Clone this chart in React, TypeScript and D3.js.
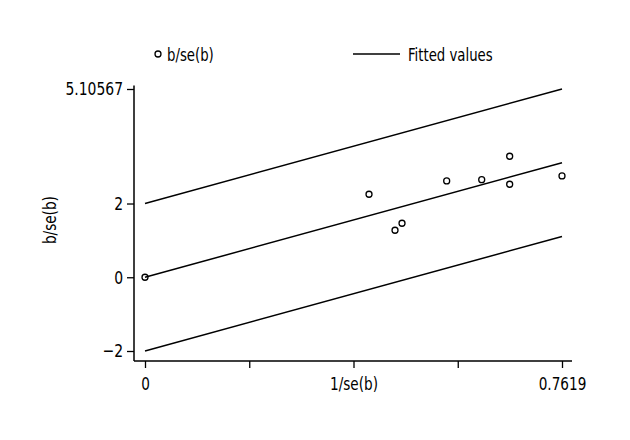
import React, { useRef, useEffect } from "react";
import * as d3 from "d3";

/* Galbraith plot: precision vs standardized effect */
const precision = [0, 0.4093, 0.4568, 0.4696, 0.5512, 0.6152, 0.6663, 0.6663, 0.7619];
const zScores = [0, 2.251, 1.275, 1.465, 2.612, 2.647, 3.282, 2.522, 2.747];
const xTickValues = [0, 0.190475, 0.38095, 0.571425, 0.7619];
const xTickLabels = ["0", "", "1/se(b)", "", "0.7619"];
const yTickValues = [-2, 0, 2, 5.10567];
const yTickLabels = ["\u22122", "0", "2", "5.10567"];
const bandOffsets = [-2, 0, 2];
const FONT = "'DejaVu Sans Condensed', 'DejaVu Sans', sans-serif";
const FS = "18px";

/* squeeze text horizontally to mimic a condensed face */
function condense(sel: d3.Selection<any, any, any, any>, k: number) {
  sel.each(function (this: SVGTextElement) {
    const w = this.getComputedTextLength();
    if (w > 0) {
      d3.select(this).attr("textLength", w * k).attr("lengthAdjust", "spacingAndGlyphs");
    }
  });
}

export default function App() {
  const svgRef = useRef<SVGSVGElement | null>(null);

  useEffect(() => {
    const W = 630;
    const H = 440;
    const svg = d3.select(svgRef.current);
    svg.selectAll("*").remove();
    svg.attr("viewBox", `0 0 ${W} ${H}`).style("background", "#fff").style("font-family", FONT);

    const xMax = 0.7619;
    const x = d3.scaleLinear().domain([0, xMax]).range([145, 562]);
    const y = d3.scaleLinear().domain([-2, 5.10567]).range([351, 89]);
    const slope = 3.10567 / xMax;

    /* ---- fitted lines ---- */
    bandOffsets.forEach((c) => {
      const pts: [number, number][] = [0, xMax].map((v) => [x(v), y(c + slope * v)]);
      svg
        .append("path")
        .attr("d", d3.line()(pts))
        .attr("fill", "none")
        .attr("stroke", "#000")
        .attr("stroke-width", 1.5);
    });

    /* ---- points ---- */
    svg
      .append("g")
      .selectAll("circle")
      .data(precision.map((p, i) => ({ p, z: zScores[i] })))
      .enter()
      .append("circle")
      .attr("cx", (d) => x(d.p))
      .attr("cy", (d) => y(d.z))
      .attr("r", 3)
      .attr("fill", "none")
      .attr("stroke", "#000")
      .attr("stroke-width", 1.3);

    /* ---- axes ---- */
    const yAxis = svg
      .append("g")
      .attr("transform", "translate(134,0)")
      .call(
        d3
          .axisLeft(y)
          .tickValues(yTickValues)
          .tickSize(7)
          .tickPadding(4)
          .tickFormat((d, i) => yTickLabels[i])
      );
    yAxis.select(".domain").remove();
    yAxis.selectAll("line").attr("stroke-width", 1.3);
    yAxis.selectAll("text").style("font-size", FS).style("font-family", FONT).attr("fill", "#000");
    condense(yAxis.selectAll("text"), 0.86);

    const xAxis = svg
      .append("g")
      .attr("transform", "translate(0,361)")
      .call(
        d3
          .axisBottom(x)
          .tickValues(xTickValues)
          .tickSize(7)
          .tickPadding(9)
          .tickFormat((d, i) => xTickLabels[i])
      );
    xAxis.select(".domain").remove();
    xAxis.selectAll("line").attr("stroke-width", 1.3);
    xAxis.selectAll("text").style("font-size", FS).style("font-family", FONT).attr("fill", "#000");
    condense(xAxis.selectAll("text"), 0.84);

    svg
      .append("path")
      .attr("d", `M${x(-0.0201)},361H${x(0.7802)}M134,361V${y(5.2)}`)
      .attr("fill", "none")
      .attr("stroke", "#000")
      .attr("stroke-width", 1.5);

    /* ---- y title ---- */
    const yTitle = svg
      .append("text")
      .attr("transform", `translate(56,${y(1.55)}) rotate(-90)`)
      .attr("text-anchor", "middle")
      .style("font-size", FS)
      .text("b/se(b)");
    condense(yTitle, 0.84);

    /* ---- legend ---- */
    const lg = svg.append("g");
    lg.append("circle")
      .attr("cx", 158)
      .attr("cy", 54)
      .attr("r", 3)
      .attr("fill", "none")
      .attr("stroke", "#000")
      .attr("stroke-width", 1.3);
    lg.append("line")
      .attr("x1", 353)
      .attr("x2", 400)
      .attr("y1", 54)
      .attr("y2", 54)
      .attr("stroke", "#000")
      .attr("stroke-width", 1.5);
    const lgText = lg
      .selectAll("text.lab")
      .data([
        { x: 167, t: "b/se(b)" },
        { x: 408, t: "Fitted values" },
      ])
      .enter()
      .append("text")
      .attr("class", "lab")
      .attr("x", (d) => d.x)
      .attr("y", 60.5)
      .style("font-size", FS)
      .text((d) => d.t);
    condense(lgText, 0.82);
  }, []);

  return (
    <svg
      ref={svgRef}
      width={630}
      height={440}
      style={{ position: "absolute", left: 0, top: 0, display: "block" }}
    />
  );
}
